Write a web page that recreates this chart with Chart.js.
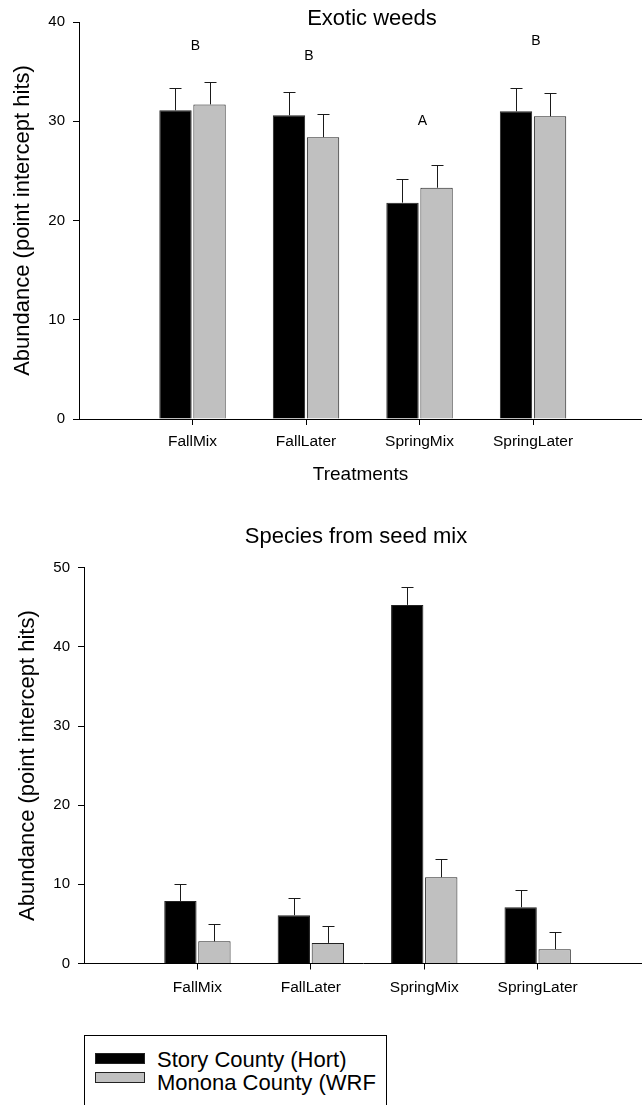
<!DOCTYPE html>
<html>
<head>
<meta charset="utf-8">
<script src="https://cdn.jsdelivr.net/npm/chart.js@4.4.1/dist/chart.umd.min.js"></script>
<style>
  body { margin: 0; background: #fff; width: 642px; height: 1105px; overflow: hidden; position: relative;
         font-family: "Liberation Sans", Arial, sans-serif; }
  .wrap { position: absolute; left: 0; width: 642px; }
  #topWrap { top: 0; height: 500px; }
  #bottomWrap { top: 505px; height: 520px; }
  #legend { position: absolute; left: 84px; top: 1035px; width: 303px; height: 90px;
            border: 1px solid #000; box-sizing: border-box; }
  .sw { position: absolute; left: 10px; width: 50px; height: 11px; box-sizing: border-box; border: 1px solid #222; }
  .lbl { position: absolute; left: 72px; font-size: 22px; line-height: 22px; white-space: nowrap; color: #000; }
</style>
</head>
<body>
<div class="wrap" id="topWrap"><canvas id="weeds"></canvas></div>
<div class="wrap" id="bottomWrap"><canvas id="seed"></canvas></div>
<div id="legend"></div>
<script>
const treatments = ['FallMix', 'FallLater', 'SpringMix', 'SpringLater'];
const seriesNames = ['Story County (Hort)', 'Monona County (WRF'];
const seriesColors = ['#000000', '#c0c0c0'];

// Exotic weeds
const weedsStory = [31.1, 30.6, 21.8, 31.0];
const weedsStorySE = [2.2, 2.3, 2.4, 2.3];
const weedsMonona = [31.7, 28.4, 23.3, 30.5];
const weedsMononaSE = [2.3, 2.3, 2.3, 2.3];
const weedsLetters = ['B', 'B', 'A', 'B'];
const weedsLetterY = [37.6, 36.6, 30.0, 38.1];
const weedsTicks = [0, 10, 20, 30, 40];

// Species from seed mix
const seedStory = [7.9, 6.1, 45.3, 7.1];
const seedStorySE = [2.2, 2.2, 2.2, 2.2];
const seedMonona = [2.8, 2.6, 10.9, 1.8];
const seedMononaSE = [2.2, 2.2, 2.3, 2.2];
const seedTicks = [0, 10, 20, 30, 40, 50];

const family = '"Liberation Sans", Arial, sans-serif';

// error bars, letters and the chart title
const extras = {
    id: 'extras',
    afterDatasetsDraw(chart, args, opts) {
        const { ctx, scales: { x, y } } = chart;
        ctx.save();
        ctx.strokeStyle = '#1a1a1a';
        ctx.lineWidth = 1;
        chart.data.datasets.forEach((ds, di) => {
            chart.getDatasetMeta(di).data.forEach((bar, i) => {
                const bx = Math.round(bar.x) + 0.5;
                const top = Math.round(y.getPixelForValue(ds.data[i].y + ds.se[i])) + 0.5;
                ctx.beginPath();
                ctx.moveTo(bx, bar.y);
                ctx.lineTo(bx, top);
                ctx.moveTo(bx - 6, top);
                ctx.lineTo(bx + 6, top);
                ctx.stroke();
            });
        });
        ctx.fillStyle = '#000';
        if (opts.letters) {
            ctx.font = '14px ' + family;
            ctx.textAlign = 'center';
            ctx.textBaseline = 'middle';
            opts.letters.forEach((t, i) => {
                ctx.fillText(t, x.getPixelForValue(i + 1) + 3, y.getPixelForValue(opts.letterY[i]));
            });
        }
        ctx.font = '22px ' + family;
        ctx.textAlign = 'center';
        ctx.textBaseline = 'alphabetic';
        ctx.fillText(opts.title, opts.titleX, opts.titleY);
        ctx.restore();
    }
};

function makeChart(id, cfg) {
    const datasets = [cfg.story, cfg.monona].map((vals, k) => ({
        label: seriesNames[k],
        data: vals.map((v, i) => ({ x: i + 1, y: v })),
        se: k === 0 ? cfg.storySE : cfg.mononaSE,
        backgroundColor: seriesColors[k],
        borderColor: '#222',
        borderWidth: 1,
        categoryPercentage: 0.6,
        barPercentage: 0.95
    }));

    return new Chart(document.getElementById(id), {
        type: 'bar',
        data: { datasets },
        plugins: [extras],
        options: {
            responsive: true,
            maintainAspectRatio: false,
            animation: false,
            layout: { padding: { top: cfg.padTop, left: 0, right: 0, bottom: 0 } },
            plugins: {
                legend: { display: false },
                tooltip: { enabled: false },
                extras: cfg.extras
            },
            scales: {
                x: {
                    type: 'linear',
                    min: 0,
                    max: cfg.xMax,
                    offset: false,
                    afterBuildTicks: s => { s.ticks = treatments.map((_, i) => ({ value: i + 1 })); },
                    afterFit: s => { s.height = cfg.xHeight; },
                    grid: { offset: false, drawOnChartArea: false, drawTicks: true, tickLength: 6, color: '#000' },
                    border: { display: true, color: '#000', width: 1 },
                    ticks: {
                        color: '#000',
                        font: { family, size: 15.5 },
                        padding: cfg.xPad,
                        maxRotation: 0,
                        callback: (v, i) => treatments[i]
                    },
                    title: cfg.xTitle
                },
                y: {
                    min: 0,
                    max: cfg.yTicks[cfg.yTicks.length - 1],
                    afterBuildTicks: s => { s.ticks = cfg.yTicks.map(v => ({ value: v })); },
                    afterFit: s => { s.width = cfg.yWidth; },
                    grid: { drawOnChartArea: false, drawTicks: true, tickLength: 6, color: '#000' },
                    border: { display: true, color: '#000', width: 1 },
                    ticks: { color: '#000', font: { family, size: 15 }, padding: 8 },
                    title: {
                        display: true,
                        text: 'Abundance (point intercept hits)',
                        color: '#000',
                        font: { family, size: 22 },
                        padding: { top: cfg.yTitlePad, bottom: 0 }
                    }
                }
            }
        }
    });
}

makeChart('weeds', {
    story: weedsStory, storySE: weedsStorySE,
    monona: weedsMonona, mononaSE: weedsMononaSE,
    yTicks: weedsTicks,
    padTop: 22, xHeight: 81, yWidth: 79, xMax: 4.96, xPad: 7, yTitlePad: 10,
    xTitle: {
        display: true, text: 'Treatments', color: '#000',
        font: { family, size: 19 }, padding: { top: 0, bottom: 13.5 }
    },
    extras: { title: 'Exotic weeds', titleX: 372, titleY: 25, letters: weedsLetters, letterY: weedsLetterY }
});

makeChart('seed', {
    story: seedStory, storySE: seedStorySE,
    monona: seedMonona, mononaSE: seedMononaSE,
    yTicks: seedTicks,
    padTop: 62.7, xHeight: 61.5, yWidth: 84, xMax: 4.92, xPad: 8.5, yTitlePad: 14.5,
    xTitle: { display: false },
    extras: { title: 'Species from seed mix', titleX: 356, titleY: 37.7 }
});

// legend box under the second chart
const legend = document.getElementById('legend');
seriesNames.forEach((name, i) => {
    const sw = document.createElement('div');
    sw.className = 'sw';
    sw.style.top = (17 + i * 18.5) + 'px';
    sw.style.background = seriesColors[i];
    legend.appendChild(sw);
    const lbl = document.createElement('div');
    lbl.className = 'lbl';
    lbl.style.top = (12.5 + i * 23) + 'px';
    lbl.textContent = name;
    legend.appendChild(lbl);
});
</script>
</body>
</html>
